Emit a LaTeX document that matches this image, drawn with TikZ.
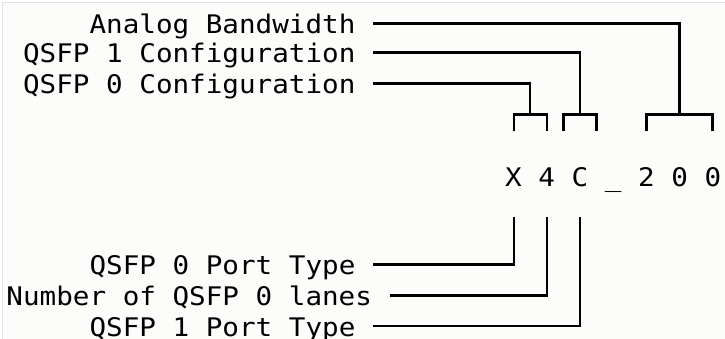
\documentclass[tikz,border=0pt]{standalone}
\usepackage{fontspec}
\newfontfamily\monofont[FakeStretch=1.078]{DejaVu Sans Mono}
\definecolor{bg}{HTML}{FCFCFA}
\definecolor{framegray}{HTML}{E2E2E2}
\begin{document}
\begin{tikzpicture}[x=1pt,y=-1pt,
  lbl/.style={anchor=base east, inner sep=0pt, font=\monofont\fontsize{25.6}{30}\selectfont},
  codetext/.style={anchor=base west, inner sep=0pt, font=\monofont\fontsize{25.6}{30}\selectfont},
  wire/.style={line width=2.6pt, line join=miter, black}]
\useasboundingbox (0,0) rectangle (725,339);
\fill[white] (0,0) rectangle (725,339);
\fill[bg] (2.3,2.3) rectangle (725,339);
\draw[framegray, line width=1.4pt] (2.3,339) -- (2.3,2.3) -- (725,2.3);

% labels
\node[lbl] (ab)  at (355.6,33.3)  {Analog Bandwidth};
\node[lbl] (q1c) at (355.6,62.7)  {QSFP 1 Configuration};
\node[lbl] (q0c) at (355.6,93.3)  {QSFP 0 Configuration};
\node[codetext] (code) at (505,186) {X 4 C \_ 2 0 0};
\node[lbl] (q0p) at (355.6,274.5) {QSFP 0 Port Type};
\node[lbl] (nl)  at (372.2,305.5) {Number of QSFP 0 lanes};
\node[lbl] (q1p) at (355.6,336)   {QSFP 1 Port Type};

% line starts
\coordinate (abS)  at (373,23.3);
\coordinate (q1cS) at (373,52.7);
\coordinate (q0cS) at (373,83.3);
\coordinate (q0pS) at (373,264.5);
\coordinate (nlS)  at (390,295.6);
\coordinate (q1pS) at (373,326);

% bracket tops
\coordinate (b1) at (530,114.3);
\coordinate (b2) at (580,114.3);
\coordinate (b3) at (679.5,114.3);
\coordinate (b1l) at (514,131.5);
\coordinate (b1r) at (547,131.5);
\coordinate (b2l) at (563.5,131.5);
\coordinate (b2r) at (596.5,131.5);
\coordinate (b3l) at (646.5,131.5);
\coordinate (b3r) at (712.5,131.5);

% bottom tops
\coordinate (t1) at (514,217);
\coordinate (t2) at (547,217);
\coordinate (t3) at (580,217);

\draw[wire] (abS) -| (b3);
\draw[wire] (q1cS) -| (b2);
\draw[wire] (q0cS) -| (b1);
\draw[wire] (b1l) |- (b1) -| (b1r);
\draw[wire] (b2l) |- (b2) -| (b2r);
\draw[wire] (b3l) |- (b3) -| (b3r);

\draw[wire] (q0pS) -| (t1);
\draw[wire] (nlS) -| (t2);
\draw[wire] (q1pS) -| (t3);
\end{tikzpicture}
\end{document}
